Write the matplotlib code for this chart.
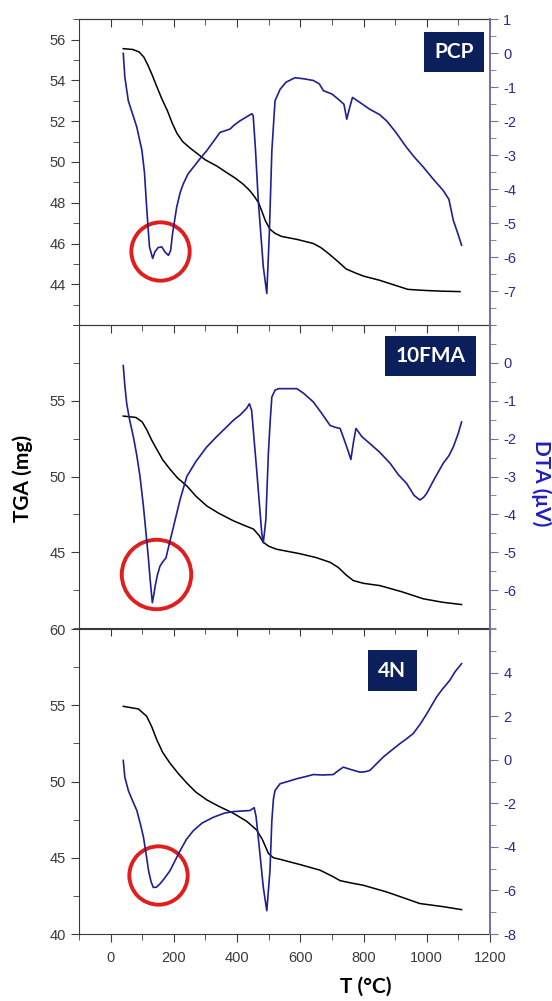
import matplotlib.pyplot as plt
from matplotlib.ticker import MultipleLocator

# ---------------- data ----------------
# PCP
pcp_tga_t = [40, 70, 90, 105, 118, 132, 146, 162, 180, 195, 210, 228, 250, 275, 300,
             336, 365, 395, 420, 440, 455, 468, 478, 490, 504, 520, 540, 590, 641,
             665, 690, 720, 745, 775, 800, 850, 900, 940, 990, 1050, 1105]
pcp_tga = [55.56, 55.52, 55.4, 55.15, 54.75, 54.25, 53.7, 53.1, 52.5, 51.9, 51.4,
           51.0, 50.7, 50.4, 50.1, 49.8, 49.5, 49.2, 48.9, 48.6, 48.3, 48.0, 47.6,
           47.1, 46.7, 46.5, 46.35, 46.2, 46.0, 45.8, 45.5, 45.1, 44.75, 44.55, 44.4,
           44.2, 43.95, 43.75, 43.7, 43.66, 43.64]
pcp_dta_t = [40, 45, 56, 70, 83, 99, 107, 114, 119, 123, 133, 140, 150, 162, 172, 183,
             190, 196, 209, 220, 230, 245, 262, 283, 304, 325, 346, 378, 390, 409, 441,
             447, 451, 458, 467, 483, 494, 502, 510, 520, 536, 555, 583, 610, 641, 660,
             673, 700, 720, 738, 747, 756, 765, 789, 820, 850, 873, 900, 936, 960, 989,
             1020, 1052, 1070, 1084, 1098, 1110]
pcp_dta = [0.0, -0.7, -1.4, -1.8, -2.18, -2.86, -3.5, -4.53, -5.2, -5.7, -6.04, -5.85,
           -5.72, -5.7, -5.85, -5.95, -5.8, -5.3, -4.53, -4.1, -3.84, -3.55, -3.35,
           -3.1, -2.87, -2.6, -2.33, -2.23, -2.12, -1.99, -1.81, -1.78, -1.84, -2.8,
           -4.33, -6.29, -7.07, -5.31, -2.87, -1.4, -1.06, -0.85, -0.72, -0.75, -0.8,
           -0.9, -1.1, -1.2, -1.35, -1.5, -1.94, -1.6, -1.3, -1.45, -1.65, -1.8, -1.99,
           -2.3, -2.77, -3.05, -3.35, -3.7, -4.04, -4.3, -4.92, -5.3, -5.65]

# 10FMA
fma_tga_t = [40, 80, 100, 114, 130, 146, 165, 188, 212, 241, 270, 304, 340, 388, 420,
             452, 470, 483, 500, 525, 600, 650, 694, 720, 745, 768, 800, 852, 920, 989,
             1050, 1110]
fma_tga = [53.99, 53.9, 53.6, 53.1, 52.4, 51.8, 51.1, 50.48, 49.9, 49.38, 48.7, 48.06,
           47.6, 47.08, 46.8, 46.53, 46.1, 45.66, 45.4, 45.2, 44.9, 44.65, 44.34, 44.0,
           43.5, 43.13, 42.95, 42.8, 42.4, 41.93, 41.7, 41.55]
fma_dta_t = [40, 45, 51, 60, 72, 83, 93, 104, 114, 120, 125, 132, 137, 141, 148, 156,
             165, 175, 185, 199, 220, 241, 270, 304, 335, 367, 390, 409, 430, 439, 446,
             462, 478, 483, 491, 499, 505, 510, 520, 531, 589, 610, 641, 665, 694, 710,
             726, 747, 760, 768, 776, 795, 820, 850, 884, 910, 936, 960, 978, 990, 1000,
             1025, 1052, 1070, 1084, 1100, 1110]
fma_dta = [-0.07, -0.6, -1.08, -1.5, -1.95, -2.45, -3.0, -3.8, -4.67, -5.2, -5.72,
           -6.33, -6.1, -5.89, -5.6, -5.37, -5.25, -5.15, -4.8, -4.32, -3.6, -3.0,
           -2.6, -2.22, -1.95, -1.69, -1.5, -1.38, -1.2, -1.08, -1.25, -2.83, -4.49,
           -4.75, -4.14, -2.39, -1.5, -0.9, -0.72, -0.68, -0.68, -0.8, -1.03, -1.3,
           -1.65, -1.7, -1.73, -2.22, -2.55, -2.1, -1.73, -1.95, -2.13, -2.35, -2.65,
           -2.95, -3.18, -3.5, -3.62, -3.55, -3.44, -3.05, -2.65, -2.45, -2.22, -1.85,
           -1.56]

# 4N
n4_tga_t = [40, 88, 114, 130, 146, 165, 188, 215, 241, 270, 304, 340, 388, 430, 462,
            480, 499, 515, 536, 600, 662, 700, 726, 760, 799, 873, 930, 978, 1050, 1110]
n4_tga = [54.93, 54.76, 54.28, 53.6, 52.74, 51.9, 51.2, 50.5, 49.9, 49.3, 48.8, 48.4,
          47.92, 47.4, 46.82, 46.2, 45.29, 45.0, 44.9, 44.55, 44.19, 43.8, 43.5, 43.35,
          43.2, 42.76, 42.35, 42.0, 41.8, 41.6]
n4_dta_t = [40, 45, 56, 70, 83, 95, 104, 112, 120, 128, 135, 145, 156, 170, 188, 205,
            220, 240, 262, 290, 325, 360, 388, 420, 441, 454, 460, 467, 483, 494, 504,
            510, 515, 520, 536, 560, 589, 615, 641, 670, 704, 720, 736, 760, 789, 805,
            820, 840, 862, 890, 915, 935, 957, 980, 1000, 1031, 1050, 1073, 1090, 1110]
n4_dta = [-0.03, -0.8, -1.41, -1.9, -2.33, -3.0, -3.56, -4.3, -5.09, -5.6, -5.86,
          -5.85, -5.7, -5.45, -5.09, -4.6, -4.17, -3.65, -3.25, -2.9, -2.64, -2.45,
          -2.38, -2.35, -2.33, -2.2, -2.6, -3.56, -5.86, -6.93, -5.09, -2.79, -1.8,
          -1.41, -1.1, -1.0, -0.87, -0.78, -0.68, -0.7, -0.68, -0.5, -0.34, -0.45,
          -0.57, -0.55, -0.49, -0.2, 0.12, 0.45, 0.74, 0.95, 1.2, 1.65, 2.11, 2.88,
          3.25, 3.65, 4.05, 4.41]

# marked endothermic peaks (T, TGA value of circle centre)
circle_t = [157, 143, 150]
circle_y = [45.64, 43.57, 43.9]

# ---------------- style ----------------
BLUE_LINE = "#1f1f94"
BLUE_AX = "#7070a8"
BLUE_TXT = "#2a2a90"
GRAY = "#3a3a3a"
NAVY = "#0b1f5a"

plt.rcParams["font.family"] = ["Liberation Sans", "DejaVu Sans"]

fig = plt.figure(figsize=(5.52, 10.01), dpi=100)
left, width = 0.1431, 0.7446
panels = [
    dict(rect=(0.6753, 0.3054), tt=pcp_tga_t, ty=pcp_tga, dt=pcp_dta_t, dy=pcp_dta,
         ylim=(42, 57), yt=range(44, 57, 2), ymin=1,
         y2lim=(-8, 1), y2t=range(-7, 2), y2min=0.5,
         name="PCP", bx=0.912, by=0.893, ms=42),
    dict(rect=(0.3726, 0.3027), tt=fma_tga_t, ty=fma_tga, dt=fma_dta_t, dy=fma_dta,
         ylim=(40, 60), yt=[45, 50, 55], ymin=2.5,
         y2lim=(-7, 1), y2t=range(-6, 1), y2min=0.5,
         name="10FMA", bx=0.856, by=0.898, ms=50),
    dict(rect=(0.0669, 0.3047), tt=n4_tga_t, ty=n4_tga, dt=n4_dta_t, dy=n4_dta,
         ylim=(40, 60), yt=range(40, 61, 5), ymin=2.5,
         y2lim=(-8, 6), y2t=range(-8, 5, 2), y2min=1,
         name="4N", bx=0.762, by=0.863, ms=42),
]

for i, p in enumerate(panels):
    ax = fig.add_axes([left, p["rect"][0], width, p["rect"][1]])
    ax.patch.set_visible(False)
    ax2 = ax.twinx()

    ax.plot(p["tt"], p["ty"], color="black", lw=1.1, zorder=3)
    ax2.plot(p["dt"], p["dy"], color=BLUE_LINE, lw=1.2)
    ax.plot(circle_t[i], circle_y[i], "o", ms=p["ms"], mfc="none", mec="#e01e1e",
            mew=2.8, zorder=5)

    ax.set_xlim(-100, 1200)
    ax.xaxis.set_major_locator(MultipleLocator(200))
    ax.xaxis.set_minor_locator(MultipleLocator(100))
    ax.tick_params(axis="x", which="both", direction="out", colors=GRAY,
                   labelbottom=(i == 2), labelsize=10.5, pad=6)
    ax.tick_params(axis="x", which="major", length=6)
    ax.tick_params(axis="x", which="minor", length=4)

    ax.set_ylim(*p["ylim"])
    ax.set_yticks(list(p["yt"]))
    ax.yaxis.set_minor_locator(MultipleLocator(p["ymin"]))
    ax.tick_params(axis="y", which="both", colors=GRAY, labelsize=10.5)
    ax.tick_params(axis="y", which="major", length=6)
    ax.tick_params(axis="y", which="minor", length=4)

    ax2.set_ylim(*p["y2lim"])
    ax2.set_yticks(list(p["y2t"]))
    ax2.yaxis.set_minor_locator(MultipleLocator(p["y2min"]))
    ax2.tick_params(axis="y", which="both", colors=BLUE_AX, labelcolor=BLUE_TXT,
                    labelsize=10.5)
    ax2.tick_params(axis="y", which="major", length=6)
    ax2.tick_params(axis="y", which="minor", length=4)
    ax2.yaxis.set_major_formatter(plt.FuncFormatter(lambda v, pos: f"{v:g}"))

    for s in ["left", "top", "bottom"]:
        ax.spines[s].set_color(GRAY)
        ax2.spines[s].set_visible(False)
    ax.spines["right"].set_visible(False)
    ax2.spines["right"].set_color(BLUE_AX)
    ax2.spines["right"].set_linewidth(1.4)

    if i == 0:
        sec = ax.secondary_xaxis("top")
        sec.xaxis.set_major_locator(MultipleLocator(200))
        sec.xaxis.set_minor_locator(MultipleLocator(100))
        sec.tick_params(which="both", direction="in", colors=GRAY, labeltop=False)
        sec.tick_params(which="major", length=6)
        sec.tick_params(which="minor", length=4)
        sec.spines["top"].set_color(GRAY)

    ax.text(p["bx"], p["by"], p["name"], transform=ax.transAxes, ha="center",
            va="center", color="white", fontsize=15, fontweight="bold",
            family=["Lato", "DejaVu Sans"], zorder=6,
            bbox=dict(boxstyle="square,pad=0.5", fc=NAVY, ec="none"))

fig.text(0.042, 0.522, "TGA (mg)", rotation=90, ha="center", va="center",
         fontsize=15, fontweight="bold", family=["Lato", "DejaVu Sans"])
fig.text(0.980, 0.517, "DTA (\u03bcV)", rotation=270, ha="center", va="center",
         fontsize=15, fontweight="bold", color="#1f1fc0",
         family=["Lato", "DejaVu Sans"])
fig.text(0.662, 0.014, "T (\u00b0C)", ha="center", va="center", fontsize=15,
         fontweight="bold", family=["Lato", "DejaVu Sans"])

fig.savefig("out.png", dpi=100, facecolor="white")
